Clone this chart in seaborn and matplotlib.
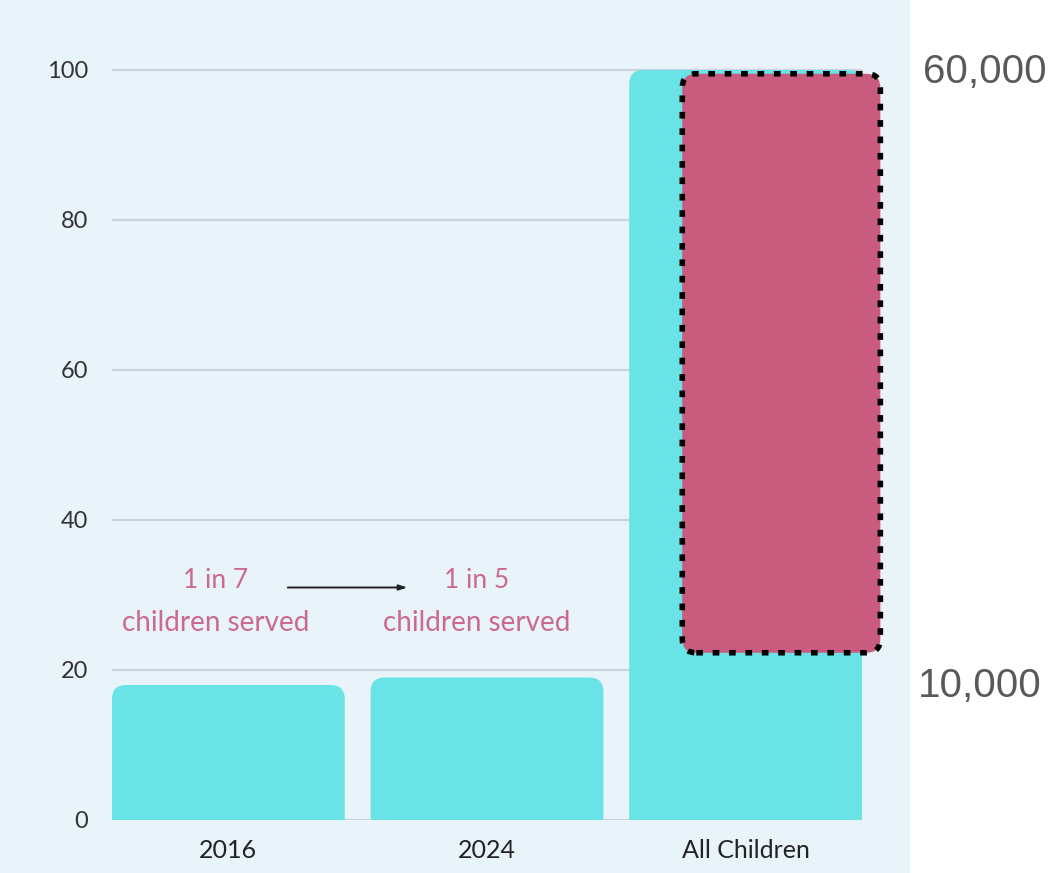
import matplotlib
matplotlib.use("Agg")
import matplotlib.pyplot as plt
import seaborn as sns
from matplotlib.patches import FancyBboxPatch, Rectangle

# ---- data ----
categories = ["2016", "2024", "All Children"]
values = [18, 19, 100]
highlight_range = [22.3, 99.5]       # pink box on "All Children"
ratio_labels = ["1 in 7", "1 in 5"]
ratio_sub = ["children served", "children served"]
side_labels = ["60,000", "10,000"]
y_ticks = [0, 20, 40, 60, 80, 100]

BG = "#E8F3FA"
TURQ = "#6AE3E6"
PINK = "#C95B7E"
PINK_TXT = "#CC6990"

sns.set_theme(style="white")
plt.rcParams["font.family"] = ["Lato", "DejaVu Sans"]

W, H = 1060, 873
fig = plt.figure(figsize=(W / 100, H / 100), dpi=100)
fig.patch.set_facecolor("white")
fig.add_artist(Rectangle((0, 0), 910 / W, 1, transform=fig.transFigure,
                         facecolor=BG, edgecolor="none", zorder=-10))

ax = fig.add_axes([112 / W, (873 - 820) / H, (862 - 112) / W, (820 - 55) / H])
ax.set_facecolor(BG)

sns.barplot(x=categories, y=values, color=TURQ, width=0.9, ax=ax, saturation=1)

# replace rectangles with rounded-top bars
px_x = 1 / 258.5
px_y = 1 / 7.5
aspect = px_y / px_x
for p in list(ax.patches):
    x0, w, h = p.get_x(), p.get_width(), p.get_height()
    p.remove()
    fb = FancyBboxPatch((x0, -5), w, h + 5,
                        boxstyle=f"round,pad=0,rounding_size={14 * px_x}",
                        mutation_aspect=aspect, facecolor=TURQ,
                        edgecolor="none", zorder=2)
    ax.add_patch(fb)

# highlight box
hw = 198 * px_x
hx = 2 + 0.138 - hw / 2
hb = FancyBboxPatch((hx, highlight_range[0]), hw, highlight_range[1] - highlight_range[0],
                    boxstyle=f"round,pad=0,rounding_size={14 * px_x}",
                    mutation_aspect=aspect, facecolor=PINK, edgecolor="none",
                    zorder=3, clip_on=False)
ax.add_patch(hb)
hb2 = FancyBboxPatch((hx, highlight_range[0]), hw, highlight_range[1] - highlight_range[0],
                     boxstyle=f"round,pad=0,rounding_size={14 * px_x}",
                     mutation_aspect=aspect, facecolor="none", edgecolor="black",
                     linewidth=4.0, linestyle=(0, (1.2, 1.75)), zorder=4, clip_on=False)
hb2.set_capstyle("butt")
ax.add_patch(hb2)

ax.set_xlim(-0.45, 2.45)
ax.set_ylim(0, 102)
ax.set_yticks(y_ticks)
ax.set_yticklabels([str(t) for t in y_ticks])
ax.yaxis.grid(True, color="#C9D4DB", linewidth=1.6, zorder=0)
ax.set_axisbelow(True)
for s in ax.spines.values():
    s.set_visible(False)
ax.tick_params(axis="y", length=0, labelsize=17, labelcolor="#333333", pad=17)
ax.tick_params(axis="x", length=0, labelsize=18, labelcolor="#222222", pad=14)
ax.set_xlabel("")
ax.set_ylabel("")

# annotations
xs = [-0.05, 0.96]
for x, t, s in zip(xs, ratio_labels, ratio_sub):
    ax.text(x, 31.9, t, ha="center", va="center", fontsize=19, color=PINK_TXT)
    ax.text(x, 26.3, s, ha="center", va="center", fontsize=20, color=PINK_TXT)
ax.annotate("", xy=(0.703, 31.0), xytext=(0.219, 31.0),
            arrowprops=dict(arrowstyle="-|>,head_length=0.4,head_width=0.13",
                            color="#222222", lw=1.4))

# side labels
fig.text(985 / W, 1 - 72 / H, side_labels[0], ha="center", va="center",
         fontsize=29, color="#595959", family="Liberation Sans")
fig.text(980 / W, 1 - 686 / H, side_labels[1], ha="center", va="center",
         fontsize=29, color="#595959", family="Liberation Sans")

fig.savefig("out.png", dpi=100, facecolor="white")
